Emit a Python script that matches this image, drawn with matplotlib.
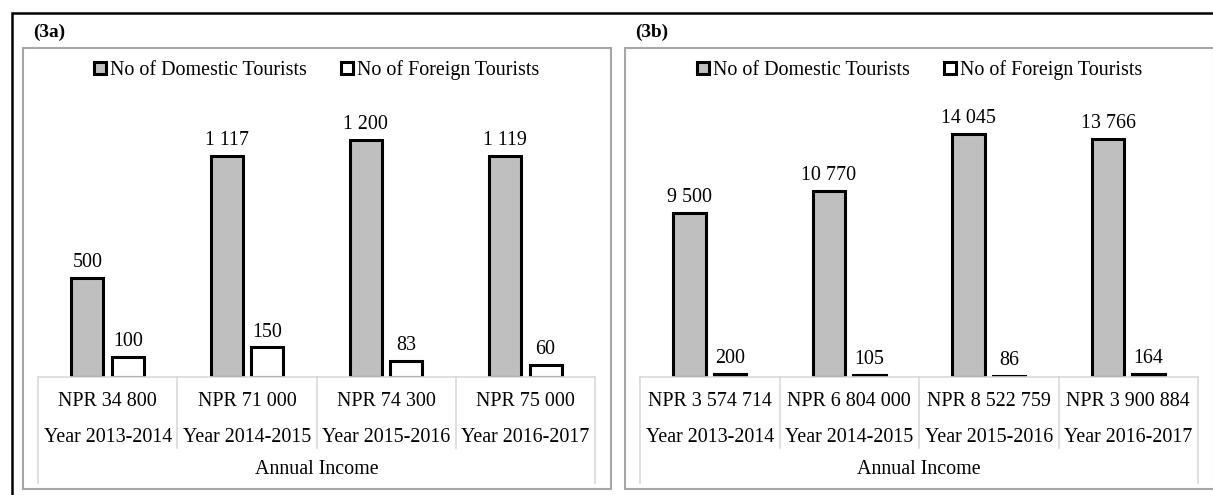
import matplotlib
matplotlib.use("Agg")
import matplotlib.pyplot as plt
import numpy as np
from matplotlib.patches import Rectangle, Patch

plt.rcParams["font.family"] = ["Liberation Serif", "DejaVu Serif"]

# data
series_names = ["No of Domestic Tourists", "No of Foreign Tourists"]
years = ["Year 2013-2014", "Year 2014-2015", "Year 2015-2016", "Year 2016-2017"]

income_a = ["NPR 34 800", "NPR 71 000", "NPR 74 300", "NPR 75 000"]
domestic_a = [500, 1117, 1200, 1119]
foreign_a = [100, 150, 83, 60]

income_b = ["NPR 3 574 714", "NPR 6 804 000", "NPR 8 522 759", "NPR 3 900 884"]
domestic_b = [9500, 10770, 14045, 13766]
foreign_b = [200, 105, 86, 164]

W, H = 1213, 495
FS = 14.4
GRID = "#d9d9d9"
BOX = "#a6a6a6"


def fx(px):
    return px / W


def fy(py):
    return 1 - py / H


def fmt(v):
    return f"{v:,}".replace(",", " ")


fig = plt.figure(figsize=(W / 100, H / 100), dpi=100)

# outer black frame (runs off the right and bottom edges)
fig.add_artist(Rectangle((fx(12), -0.2), 1.2, fy(13) + 0.2, transform=fig.transFigure,
                         fill=False, edgecolor="black", linewidth=1.8))


def panel(left, right, tag, income, dom, fore, ymax):
    # gray panel box
    fig.add_artist(Rectangle((fx(left), fy(489)), fx(right) - fx(left), fy(48) - fy(489),
                             transform=fig.transFigure, fill=False, edgecolor=BOX, linewidth=1.5))
    fig.text(fx(left + 10), fy(32), tag, fontsize=FS - 0.5, fontweight="bold", va="center", ha="left")

    ax_l, ax_r = left + 15, right - 16
    ax = fig.add_axes([fx(ax_l), fy(377), fx(ax_r) - fx(ax_l), fy(100) - fy(377)])
    x = np.arange(len(dom))
    off, bw = 0.145, 0.23
    b1 = ax.bar(x - off, dom, bw, color="#bfbfbf", edgecolor="black", linewidth=2.2)
    b2 = ax.bar(x + off, fore, bw, color="white", edgecolor="black", linewidth=2.2)
    for bars, vals in ((b1, dom), (b2, fore)):
        for rect, v in zip(bars, vals):
            ax.annotate(fmt(v), (rect.get_x() + rect.get_width() / 2, v), xytext=(0, 11),
                        textcoords="offset points", ha="center", va="center", fontsize=FS)
    ax.set_xlim(-0.5, len(dom) - 0.5)
    ax.set_ylim(0, ymax)
    ax.set_xticks([])
    ax.set_yticks([])
    for s in ("top", "left", "right"):
        ax.spines[s].set_visible(False)
    ax.spines["bottom"].set_color(GRID)
    ax.spines["bottom"].set_linewidth(1.2)

    tr = ax.get_xaxis_transform()
    h = 277
    for i, (inc, yr) in enumerate(zip(income, years)):
        ax.text(i, -24 / h, inc, transform=tr, ha="center", va="center", fontsize=FS, clip_on=False)
        ax.text(i, -60 / h, yr, transform=tr, ha="center", va="center", fontsize=FS, clip_on=False)
    ax.text((len(dom) - 1) / 2, -93 / h, "Annual Income", transform=tr, ha="center",
            va="center", fontsize=FS, clip_on=False)
    for k in range(len(dom) + 1):
        bottom = -106 / h if k in (0, len(dom)) else -71 / h
        ax.plot([k - 0.5, k - 0.5], [0, bottom], transform=tr, color=GRID, linewidth=1.2,
                clip_on=False)

    handles = [Patch(facecolor="#bfbfbf", edgecolor="black", linewidth=2.2),
               Patch(facecolor="white", edgecolor="black", linewidth=2.2)]
    fig.legend(handles, series_names, loc="center", bbox_to_anchor=(fx((left + right) / 2), fy(70)),
               ncol=2, frameon=False, fontsize=FS, handlelength=0.6, handleheight=0.6,
               handletextpad=0.2, columnspacing=1.7)


panel(23, 611, "(3a)", income_a, domestic_a, foreign_a, 1400)
panel(625, 1214, "(3b)", income_b, domestic_b, foreign_b, 16000)

fig.savefig("out.png", dpi=100)
